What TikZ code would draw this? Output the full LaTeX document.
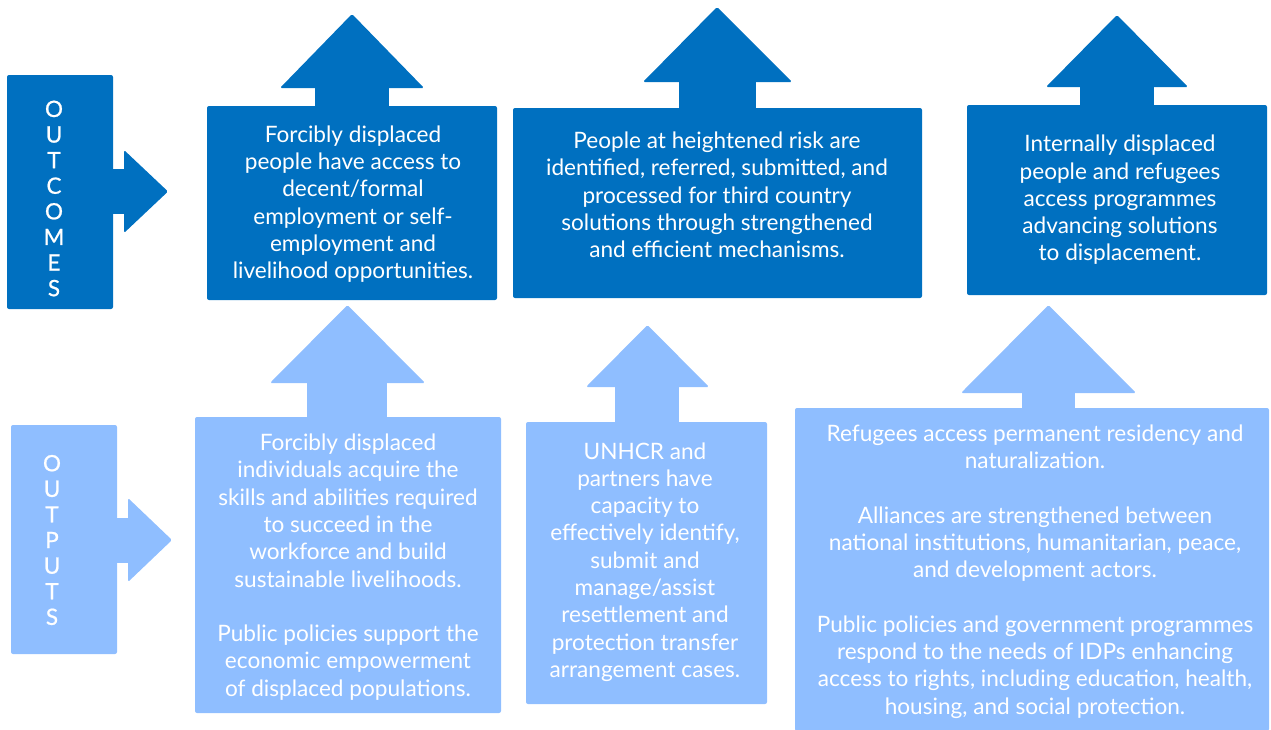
\documentclass[tikz,border=0pt]{standalone}
\usepackage{fontspec}
\setmainfont{Lato}
\newfontface\vfont{Lato}[FakeBold=0.8]
\definecolor{dblue}{RGB}{0,112,192}
\definecolor{lblue}{RGB}{143,190,255}
\begin{document}
\begin{tikzpicture}[x=1pt,y=-1pt,
  box/.style={rounded corners=2pt, inner sep=0pt, outer sep=0pt, anchor=north west},
  txt/.style={text=white, font=\fontsize{22.6}{27.3}\selectfont, align=center, inner sep=0pt},
  vlab/.style={text=white, font=\vfont\fontsize{22.5}{25.6}\selectfont, align=center, inner sep=0pt},
  head/.style={rounded corners=1.5pt}]
\useasboundingbox (0,0) rectangle (1271,729);

% ---- outcome row ----
\node[box, fill=dblue, minimum width=106pt, minimum height=234pt] (ocl) at (7,75) {};
\fill[dblue] (112,169) rectangle (126,214);
\fill[dblue, head] (124,150) -- (168,191.5) -- (124,233) -- cycle;
\node[vlab] (oclt) at (54,198.5) {O\\U\\T\\C\\O\\M\\E\\S};

\node[box, fill=dblue, minimum width=290pt, minimum height=194pt] (oc1) at (207,106) {};
\fill[dblue] (315,86) rectangle (389,107);
\fill[dblue, head] (280,88) -- (352,14) -- (424,88) -- cycle;
\node[txt] (oc1t) at (353,204) {Forcibly displaced\\people have access to\\decent/formal\\employment or self-\\employment and\\livelihood opportunities.};

\node[box, fill=dblue, minimum width=409pt, minimum height=190pt] (oc2) at (513,108) {};
\fill[dblue] (679,80) rectangle (756,109);
\fill[dblue, head] (643,82) -- (717,7) -- (792,82) -- cycle;
\node[txt] (oc2t) at (717,195) {People at heightened risk are\\identified, referred, submitted, and\\processed for third country\\solutions through strengthened\\and efficient mechanisms.};

\node[box, fill=dblue, minimum width=300pt, minimum height=190pt] (oc3) at (967,105) {};
\fill[dblue] (1080,85) rectangle (1154,106);
\fill[dblue, head] (1046,87) -- (1117,15) -- (1188,87) -- cycle;
\node[txt] (oc3t) at (1120,200) {Internally displaced\\people and refugees\\access programmes\\advancing solutions\\to displacement.};

% ---- output row ----
\node[box, fill=lblue, minimum width=106pt, minimum height=229pt] (otl) at (11,425) {};
\fill[lblue] (116,518) rectangle (130,563);
\fill[lblue, head] (128,498) -- (172,540) -- (128,582) -- cycle;
\node[vlab] (otlt) at (52,540) {O\\U\\T\\P\\U\\T\\S};

\node[box, fill=lblue, minimum width=306pt, minimum height=296pt] (ot1) at (195,417) {};
\fill[lblue] (307,381) rectangle (387,418);
\fill[lblue, head] (270,383) -- (347.5,305) -- (425,383) -- cycle;
\node[txt] (ot1t) at (348,567) {Forcibly displaced\\individuals acquire the\\skills and abilities required\\to succeed in the\\workforce and build\\sustainable livelihoods.\\[27.3pt]Public policies support the\\economic empowerment\\of displaced populations.};

\node[box, fill=lblue, minimum width=241pt, minimum height=282pt] (ot2) at (526,422) {};
\fill[lblue] (615,385) rectangle (679,423);
\fill[lblue, head] (586,387) -- (647.5,325) -- (709,387) -- cycle;
\node[txt] (ot2t) at (645,562) {UNHCR and\\partners have\\capacity to\\effectively identify,\\submit and\\manage/assist\\resettlement and\\protection transfer\\arrangement cases.};

\node[box, fill=lblue, minimum width=474pt, minimum height=323pt] (ot3) at (795,408) {};
\fill[lblue] (1022,391) rectangle (1075,409);
\fill[lblue, head] (961,393) -- (1048.5,305) -- (1136,393) -- cycle;
\node[txt] (ot3t) at (1035,571.5) {Refugees access permanent residency and\\naturalization.\\[27.3pt]Alliances are strengthened between\\national institutions, humanitarian, peace,\\and development actors.\\[27.3pt]Public policies and government programmes\\respond to the needs of IDPs enhancing\\access to rights, including education, health,\\housing, and social protection.};
\end{tikzpicture}
\end{document}
